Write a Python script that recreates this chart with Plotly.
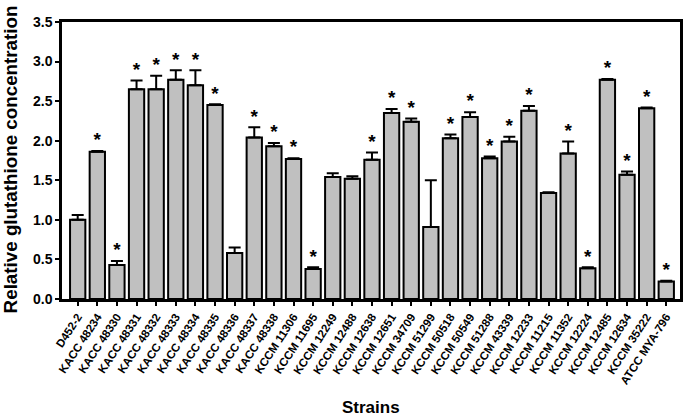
import plotly.graph_objects as go

strains = ["D452-2", "KACC 48234", "KACC 48330", "KACC 48331", "KACC 48332", "KACC 48333",
           "KACC 48334", "KACC 48335", "KACC 48336", "KACC 48337", "KACC 48338",
           "KCCM 11306", "KCCM 11695", "KCCM 12249", "KCCM 12488", "KCCM 12638",
           "KCCM 12651", "KCCM 34709", "KCCM 51299", "KCCM 50518", "KCCM 50549",
           "KCCM 51288", "KCCM 43339", "KCCM 12233", "KCCM 11215", "KCCM 11352",
           "KCCM 12224", "KCCM 12485", "KCCM 12634", "KCCM 35222", "ATCC MYA-796"]
values = [1.00, 1.86, 0.43, 2.65, 2.65, 2.77, 2.70, 2.45, 0.58, 2.04, 1.93,
          1.77, 0.38, 1.54, 1.52, 1.76, 2.35, 2.24, 0.91, 2.03, 2.30,
          1.78, 1.99, 2.38, 1.34, 1.84, 0.39, 2.77, 1.57, 2.41, 0.22]
errors = [0.06, 0.01, 0.05, 0.11, 0.17, 0.12, 0.19, 0.01, 0.07, 0.13, 0.04,
          0.01, 0.02, 0.05, 0.03, 0.09, 0.05, 0.04, 0.59, 0.05, 0.06,
          0.02, 0.06, 0.06, 0.01, 0.15, 0.01, 0.01, 0.04, 0.01, 0.01]
significant = [False, True, True, True, True, True, True, True, False, True, True,
               True, True, False, False, True, True, True, False, True, True,
               True, True, True, False, True, True, True, True, True, True]

idx = list(range(len(strains)))

fig = go.Figure()
fig.add_trace(go.Bar(
    x=idx, y=values, width=0.78,
    marker=dict(color="#c0c0c0", line=dict(color="black", width=2)),
    error_y=dict(type="data", array=errors, arrayminus=[0] * len(errors),
                 symmetric=False, color="black", thickness=2, width=6),
    showlegend=False,
))

star_x = [i for i, s in zip(idx, significant) if s]
star_y = [v + e for v, e, s in zip(values, errors, significant) if s]
fig.add_trace(go.Scatter(
    x=star_x, y=star_y, mode="text", text=["<b>*</b>"] * len(star_x),
    textposition="top center",
    textfont=dict(family="Liberation Sans", size=19, color="black"),
    showlegend=False, cliponaxis=False,
))

fig.update_layout(
    width=685, height=418,
    margin=dict(l=62, r=2, t=22, b=119),
    paper_bgcolor="white", plot_bgcolor="white",
    font=dict(family="Liberation Sans", color="black"),
    xaxis=dict(
        range=[-0.8, 30.7], tickmode="array", tickvals=idx, ticktext=strains,
        tickangle=-57, tickfont=dict(size=11.5, family="Liberation Sans", weight="bold"),
        ticks="outside", ticklen=4, tickwidth=2, tickcolor="black",
        showline=True, linecolor="black", linewidth=2.5, mirror=True,
        showgrid=False, zeroline=False,
    ),
    yaxis=dict(
        range=[0, 3.5], tickvals=[0, 0.5, 1.0, 1.5, 2.0, 2.5, 3.0, 3.5],
        ticktext=["0.0", "0.5", "1.0", "1.5", "2.0", "2.5", "3.0", "3.5"],
        tickfont=dict(size=14, family="Liberation Sans", weight="bold"),
        ticks="outside", ticklen=4, tickwidth=2, tickcolor="black",
        showline=True, linecolor="black", linewidth=2.5, mirror=True,
        showgrid=False, zeroline=False,
    ),
    annotations=[
        dict(text="<b>Relative glutathione concentration</b>", xref="paper", yref="paper",
             x=-0.083, y=0.503, xanchor="center", yanchor="middle", textangle=-90,
             showarrow=False, font=dict(size=18.8, family="Liberation Sans", color="black")),
        dict(text="<b>Strains</b>", xref="paper", yref="paper",
             x=0.5, y=-0.39, xanchor="center", yanchor="middle",
             showarrow=False, font=dict(size=17, family="Liberation Sans", color="black")),
    ],
)

fig.write_html("out.html")
